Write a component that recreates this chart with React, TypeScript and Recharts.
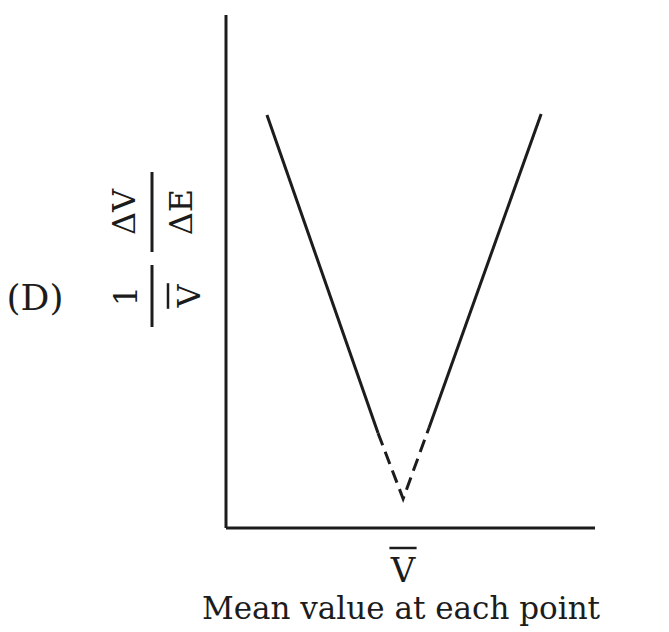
import React from 'react';
import { LineChart, Line, XAxis, YAxis, Label } from 'recharts';

// mean value (x) and the V-shaped curve, split into solid and dashed parts
const meanX = [11.1, 41.2, 48.0, 55.0, 85.4];
const solidLeft = [80.5, 18.5, null, null, null];
const dashedMid = [null, 18.5, 5.7, 19.5, null];
const solidRight = [null, null, null, 19.5, 80.7];

const panelTag = '(D)';
const xTitle = 'Mean value at each point';

const data = meanX.map((x, i) => ({
  x,
  left: solidLeft[i],
  mid: dashedMid[i],
  right: solidRight[i],
}));

const ink = '#1c1c1c';
const font = '"DejaVu Serif", serif';

// V with a bar over it (mean value)
const VBar = ({ x, y, size }: any) => (
  <g>
    <text x={x} y={y} textAnchor="middle" fontSize={size}>V</text>
    <line x1={x - size * 0.4} x2={x + size * 0.4} y1={y - size * 1.0} y2={y - size * 1.0} stroke={ink} strokeWidth={2.5} />
  </g>
);

const XLabel = (props: any) => {
  const { viewBox } = props;
  const cx = viewBox.x + 177;
  return (
    <g fill={ink} fontFamily={font}>
      <VBar x={cx} y={viewBox.y + 54} size={34} />
      <text x={cx - 2} y={viewBox.y + 91} textAnchor="middle" fontSize={31}>{xTitle}</text>
    </g>
  );
};

const Fraction = ({ cx, cy, len, num, den, numDy, denDy }: any) => (
  <g transform={`rotate(-90, ${cx}, ${cy})`}>
    <text x={cx} y={cy + numDy} textAnchor="middle" fontSize={32}>{num}</text>
    <line x1={cx - len / 2} x2={cx + len / 2} y1={cy} y2={cy} stroke={ink} strokeWidth={3} />
    {den === 'Vbar' ? (
      <VBar x={cx} y={cy + denDy} size={32} />
    ) : (
      <text x={cx} y={cy + denDy} textAnchor="middle" fontSize={32}>{den}</text>
    )}
  </g>
);

const YLabel = (props: any) => {
  const { viewBox } = props;
  const bx = viewBox.x + viewBox.width - 74;
  return (
    <g fill={ink} fontFamily={font}>
      <text x={35} y={310} textAnchor="middle" fontSize={36}>{panelTag}</text>
      <Fraction cx={bx} cy={296} len={62} num="1" den="Vbar" numDy={-15} denDy={48} />
      <Fraction cx={bx} cy={212} len={80} num={'\u0394V'} den={'\u0394E'} numDy={-17} denDy={40} />
    </g>
  );
};

export default function App() {
  return (
    <div style={{ position: 'absolute', left: 0, top: 0, background: '#fff' }}>
      <LineChart
        width={669}
        height={632}
        data={data}
        margin={{ top: 15, right: 74, left: 225, bottom: 103 }}
      >
        <XAxis
          type="number"
          dataKey="x"
          domain={[0, 100]}
          height={1}
          tick={false}
          tickLine={false}
          axisLine={{ stroke: ink, strokeWidth: 3 }}
        >
          <Label content={XLabel} />
        </XAxis>
        <YAxis
          type="number"
          domain={[0, 100]}
          width={1}
          tick={false}
          tickLine={false}
          axisLine={{ stroke: ink, strokeWidth: 3 }}
        >
          <Label content={YLabel} />
        </YAxis>
        <Line dataKey="left" type="linear" stroke={ink} strokeWidth={3} dot={false} isAnimationActive={false} />
        <Line dataKey="mid" type="linear" stroke={ink} strokeWidth={3} strokeDasharray="13 7" dot={false} isAnimationActive={false} />
        <Line dataKey="right" type="linear" stroke={ink} strokeWidth={3} dot={false} isAnimationActive={false} />
      </LineChart>
    </div>
  );
}
